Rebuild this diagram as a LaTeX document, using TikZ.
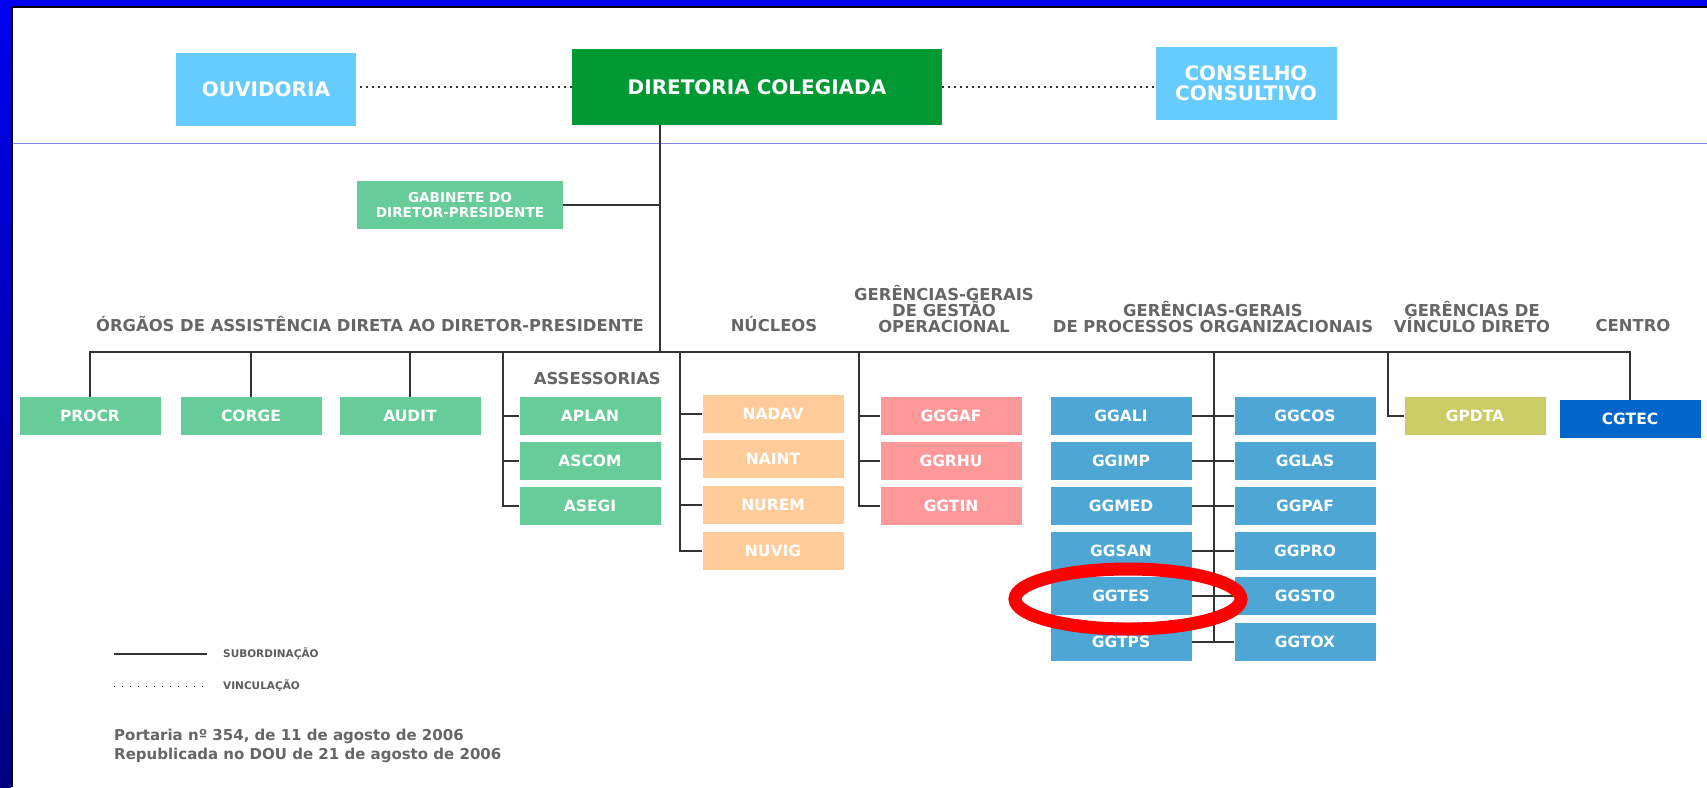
\documentclass[tikz,border=0pt]{standalone}
\usepackage{fontspec}
\setmainfont{DejaVu Sans}

\definecolor{azul}{HTML}{0000EE}
\definecolor{marinho}{HTML}{000080}
\definecolor{faixa}{HTML}{8585E0}
\definecolor{ceu}{HTML}{66CCFF}
\definecolor{colegiada}{HTML}{009933}
\definecolor{assist}{HTML}{66CC99}
\definecolor{nucleo}{HTML}{FFCC99}
\definecolor{gestao}{HTML}{FF9999}
\definecolor{processo}{HTML}{4DA6D4}
\definecolor{vinculo}{HTML}{CCCC66}
\definecolor{centro}{HTML}{0066CC}
\definecolor{cinza}{HTML}{666666}
\definecolor{linha}{HTML}{333333}

\begin{document}
\begin{tikzpicture}[x=1pt,y=-1pt,
  caixa/.style={rectangle,minimum width=141,minimum height=38,inner sep=0,
    text=white,font=\bfseries\fontsize{15.5}{17}\selectfont},
  topo/.style={caixa,font=\bfseries\fontsize{20}{19.5}\selectfont,align=center},
  sub/.style={draw=linha,line width=2pt},
  vinc/.style={draw=linha,line width=1.5pt,dash pattern=on 1.5pt off 4.5pt},
  titulo/.style={text=cinza,font=\bfseries\fontsize{16.4}{15.8}\selectfont,
    align=center,inner sep=0},
  legenda/.style={text=linha!80,font=\bfseries\fontsize{10.5}{12}\selectfont,inner sep=0},
  rodape/.style={text=cinza,font=\bfseries\fontsize{15}{17}\selectfont,inner sep=0}]

  % moldura
  \useasboundingbox (0,0) rectangle (1707,787);
  \fill[white] (0,0) rectangle (1707,787);
  \shade[top color=azul,bottom color=marinho] (0,0) rectangle (11,787);
  \fill[azul] (0,0) rectangle (1707,6);
  \fill[black] (11,6) rectangle (1707,8);
  \fill[black] (11,6) rectangle (13,787);
  \draw[faixa,line width=1pt] (13,143) -- (1707,143);

  % topo
  \node[topo,fill=ceu,minimum width=180,minimum height=73] (ouv) at (266,89) {OUVIDORIA};
  \node[topo,fill=colegiada,minimum width=370,minimum height=76] (dir) at (757,87) {DIRETORIA COLEGIADA};
  \node[topo,fill=ceu,minimum width=181,minimum height=73] (cons) at (1246,83) {CONSELHO\\CONSULTIVO};
  \draw[vinc] (dir.west) -- (dir.west -| ouv.east);
  \draw[vinc] (dir.east) -- (dir.east -| cons.west);

  \node[caixa,fill=assist,minimum width=206,minimum height=48,align=center,
    font=\bfseries\fontsize{13.6}{14.2}\selectfont]
    (gab) at (460,205) {GABINETE DO\\DIRETOR-PRESIDENTE};

  % titulos
  \node[titulo,anchor=base] (torgaos) at (370,331) {ÓRGÃOS DE ASSISTÊNCIA DIRETA AO DIRETOR-PRESIDENTE};
  \node[titulo,anchor=base] (tnucleos) at (774,331) {NÚCLEOS};
  \node[titulo,anchor=south] (tgestao) at (944,333) {GERÊNCIAS-GERAIS\\DE GESTÃO\\OPERACIONAL};
  \node[titulo,anchor=south] (tprocessos) at (1213,333) {GERÊNCIAS-GERAIS\\DE PROCESSOS ORGANIZACIONAIS};
  \node[titulo,anchor=south] (tvinculo) at (1472,333) {GERÊNCIAS DE\\VÍNCULO DIRETO};
  \node[titulo,anchor=base] (tcentro) at (1633,331) {CENTRO};

  % orgaos de assistencia
  \node[caixa,fill=assist] (procr) at (90,416) {PROCR};
  \node[caixa,fill=assist] (corge) at (251,416) {CORGE};
  \node[caixa,fill=assist] (audit) at (410,416) {AUDIT};
  \node[titulo,anchor=base east] (tassessorias) at (661,384) {ASSESSORIAS};
  \node[caixa,fill=assist] (aplan) at (590,416) {APLAN};
  \node[caixa,fill=assist] (ascom) at (590,461) {ASCOM};
  \node[caixa,fill=assist] (asegi) at (590,506) {ASEGI};

  % nucleos
  \node[caixa,fill=nucleo] (nadav) at (773,414) {NADAV};
  \node[caixa,fill=nucleo] (naint) at (773,459) {NAINT};
  \node[caixa,fill=nucleo] (nurem) at (773,505) {NUREM};
  \node[caixa,fill=nucleo] (nuvig) at (773,551) {NUVIG};

  % gestao operacional
  \node[caixa,fill=gestao] (gggaf) at (951,416) {GGGAF};
  \node[caixa,fill=gestao] (ggrhu) at (951,461) {GGRHU};
  \node[caixa,fill=gestao] (ggtin) at (951,506) {GGTIN};

  % processos organizacionais
  \node[caixa,fill=processo] (ggali) at (1121,416) {GGALI};
  \node[caixa,fill=processo] (ggimp) at (1121,461) {GGIMP};
  \node[caixa,fill=processo] (ggmed) at (1121,506) {GGMED};
  \node[caixa,fill=processo] (ggsan) at (1121,551) {GGSAN};
  \node[caixa,fill=processo] (ggtes) at (1121,596) {GGTES};
  \node[caixa,fill=processo] (ggtps) at (1121,642) {GGTPS};
  \node[caixa,fill=processo] (ggcos) at (1305,416) {GGCOS};
  \node[caixa,fill=processo] (gglas) at (1305,461) {GGLAS};
  \node[caixa,fill=processo] (ggpaf) at (1305,506) {GGPAF};
  \node[caixa,fill=processo] (ggpro) at (1305,551) {GGPRO};
  \node[caixa,fill=processo] (ggsto) at (1305,596) {GGSTO};
  \node[caixa,fill=processo] (ggtox) at (1305,642) {GGTOX};

  % vinculo direto e centro
  \node[caixa,fill=vinculo] (gpdta) at (1475,416) {GPDTA};
  \node[caixa,fill=centro] (cgtec) at (1630,419) {CGTEC};

  % ligacoes
  \coordinate (tronco) at (660,352);
  \coordinate (eixoas) at (503,352);
  \coordinate (eixonu) at (680,352);
  \coordinate (eixogo) at (859,352);
  \coordinate (eixopo) at (1214,352);
  \coordinate (eixovd) at (1388,352);
  \draw[sub] (dir.south -| tronco) -- (tronco);
  \draw[sub] (gab.east) -- (gab.east -| tronco);
  \draw[sub] (procr.north)
  -- (procr.north |- tronco)
  -- (cgtec.north |- tronco)
  -- (cgtec.north);
  \draw[sub] (corge.north) -- (corge.north |- tronco);
  \draw[sub] (audit.north) -- (audit.north |- tronco);

  \draw[sub] (eixoas) |- (asegi.west);
  \draw[sub] (aplan.west) -- (aplan.west -| eixoas);
  \draw[sub] (ascom.west) -- (ascom.west -| eixoas);

  \draw[sub] (eixonu) |- (nuvig.west);
  \draw[sub] (nadav.west) -- (nadav.west -| eixonu);
  \draw[sub] (naint.west) -- (naint.west -| eixonu);
  \draw[sub] (nurem.west) -- (nurem.west -| eixonu);

  \draw[sub] (eixogo) |- (ggtin.west);
  \draw[sub] (gggaf.west) -- (gggaf.west -| eixogo);
  \draw[sub] (ggrhu.west) -- (ggrhu.west -| eixogo);

  \draw[sub] (eixopo) -- (eixopo |- ggtps.east);
  \draw[sub] (ggali.east) -- (ggcos.west);
  \draw[sub] (ggimp.east) -- (gglas.west);
  \draw[sub] (ggmed.east) -- (ggpaf.west);
  \draw[sub] (ggsan.east) -- (ggpro.west);
  \draw[sub] (ggtes.east) -- (ggsto.west);
  \draw[sub] (ggtps.east) -- (ggtox.west);

  \draw[sub] (eixovd) |- (gpdta.west);

  % destaque
  \draw[red,line width=13pt] (1128,599) ellipse [x radius=113, y radius=30];

  % legenda
  \coordinate (legsa) at (114,654);
  \coordinate (legsb) at (207,654);
  \coordinate (legva) at (114,686);
  \coordinate (legvb) at (207,686);
  \draw[sub,line width=1.5pt] (legsa) -- (legsb);
  \node[legenda,anchor=west] (lsub) at (223,654) {SUBORDINAÇÃO};
  \draw[vinc,line width=1pt,dash pattern=on 1pt off 7pt] (legva) -- (legvb);
  \node[legenda,anchor=west] (lvinc) at (223,686) {VINCULAÇÃO};

  \node[rodape,anchor=base west] (portaria) at (114,740) {Portaria nº 354, de 11 de agosto de 2006};
  \node[rodape,anchor=base west] (republicada) at (114,759) {Republicada no DOU de 21 de agosto de 2006};
\end{tikzpicture}
\end{document}
